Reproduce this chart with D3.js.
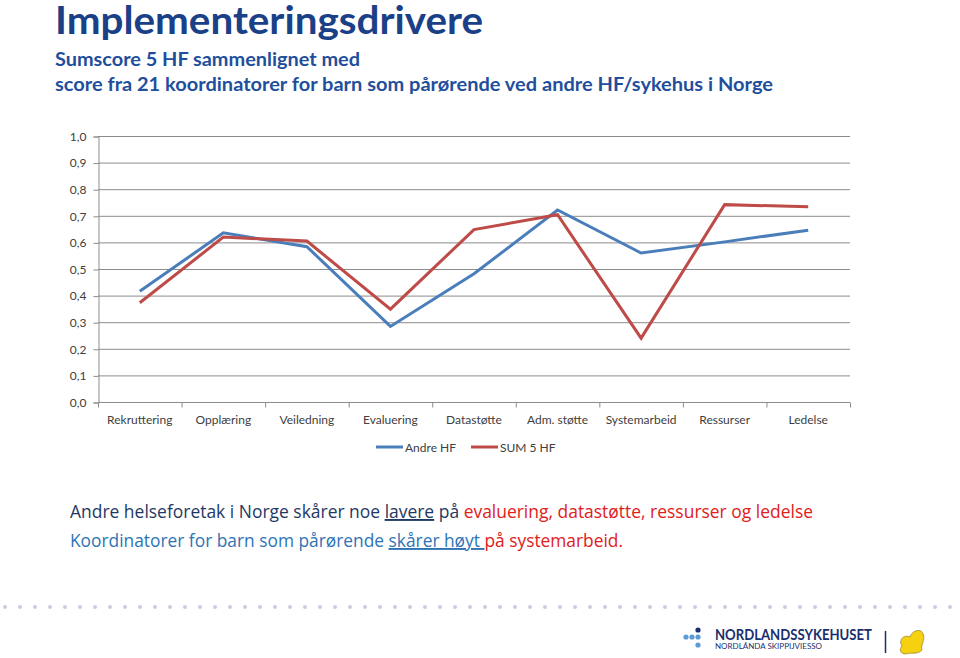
<!DOCTYPE html>
<html><head><meta charset="utf-8">
<script src="https://cdn.jsdelivr.net/npm/d3@7/dist/d3.min.js"></script>
<style>
html,body{margin:0;padding:0;background:#fff;}
svg{display:block;font-family:Lato,"Open Sans",sans-serif;}
</style></head>
<body>
<svg id="c" width="960" height="658"></svg>
<script>
const categories = ["Rekruttering","Opplæring","Veiledning","Evaluering","Datastøtte","Adm. støtte","Systemarbeid","Ressurser","Ledelse"];
const andreHF = [0.416,0.636,0.584,0.284,0.482,0.722,0.560,0.602,0.646];
const sum5HF  = [0.373,0.620,0.605,0.349,0.648,0.704,0.240,0.742,0.734];
const yTicks = [0,0.1,0.2,0.3,0.4,0.5,0.6,0.7,0.8,0.9,1.0];
const seriesNames = ["Andre HF","SUM 5 HF"];
const seriesColors = ["#4a7ebb","#be4b48"];

const svg = d3.select("#c");

// Title
svg.append("text").attr("x",55).attr("y",34).attr("fill","#1a4087")
  .attr("font-size",39).attr("font-weight","bold")
  .attr("textLength",428).attr("lengthAdjust","spacingAndGlyphs")
  .text("Implementeringsdrivere");
svg.append("text").attr("x",55).attr("y",66).attr("fill","#1f4f9c")
  .attr("font-size",18.5).attr("font-weight","bold")
  .attr("textLength",305).attr("lengthAdjust","spacingAndGlyphs")
  .text("Sumscore 5 HF sammenlignet med");
svg.append("text").attr("x",55).attr("y",91).attr("fill","#1f4f9c")
  .attr("font-size",18.5).attr("font-weight","bold")
  .attr("textLength",718).attr("lengthAdjust","spacingAndGlyphs")
  .text("score fra 21 koordinatorer for barn som pårørende ved andre HF/sykehus i Norge");

// Chart
const x0 = 98, x1 = 850, yTop = 136, yBot = 402;
const x = d3.scaleBand().domain(categories).range([x0,x1]).paddingInner(0).paddingOuter(0);
const y = d3.scaleLinear().domain([0,1]).range([yBot,yTop]);
const grid = "#8c8c8c";

const g = svg.append("g");
// gridlines
g.append("g").selectAll("line").data(yTicks.filter(d=>d>0)).join("line")
  .attr("x1",x0).attr("x2",x1).attr("y1",d=>y(d)+0.5).attr("y2",d=>y(d)+0.5)
  .attr("stroke",grid).attr("stroke-width",1);

// y axis
const yAxis = d3.axisLeft(y).tickValues(yTicks).tickSize(5).tickPadding(7)
  .tickFormat(d=>d3.format(".1f")(d).replace(".",","));
const ya = g.append("g").attr("transform",`translate(${x0+0.5},0.5)`).call(yAxis);
ya.select(".domain").attr("stroke",grid);
ya.selectAll(".tick line").attr("stroke",grid);
ya.selectAll("text").attr("font-size",12).attr("fill","#404040").attr("font-family","Lato,'Open Sans',sans-serif");

// x axis
const xa = g.append("g").attr("transform",`translate(0,${yBot+0.5})`);
xa.append("line").attr("x1",x0).attr("x2",x1).attr("stroke",grid);
const bounds = categories.map(c=>x(c)).concat([x1]);
xa.selectAll("line.tk").data(bounds).join("line").attr("class","tk")
  .attr("x1",d=>d+0.5).attr("x2",d=>d+0.5).attr("y1",0).attr("y2",5).attr("stroke",grid);
xa.selectAll("text").data(categories).join("text")
  .attr("x",d=>x(d)+x.bandwidth()/2).attr("y",21)
  .attr("text-anchor","middle").attr("font-size",12).attr("fill","#404040")
  .text(d=>d);

// lines
const line = d3.line().x((d,i)=>x(categories[i])+x.bandwidth()/2).y(d=>y(d));
[andreHF,sum5HF].forEach((s,i)=>{
  g.append("path").datum(s).attr("d",line).attr("fill","none")
    .attr("stroke",seriesColors[i]).attr("stroke-width",3).attr("stroke-linejoin","miter");
});

// legend
const lg = svg.append("g");
const legX = [376,471];
seriesNames.forEach((n,i)=>{
  lg.append("line").attr("x1",legX[i]).attr("x2",legX[i]+27).attr("y1",447).attr("y2",447)
    .attr("stroke",seriesColors[i]).attr("stroke-width",3);
  lg.append("text").attr("x",legX[i]+29).attr("y",451.5).attr("font-size",12).attr("fill","#404040").text(n);
});

// bottom text
const t1 = svg.append("text").attr("x",70).attr("y",518).attr("font-size",19)
  .attr("font-family","'Open Sans',Lato,sans-serif")
  .attr("textLength",743).attr("lengthAdjust","spacingAndGlyphs");
t1.append("tspan").attr("fill","#1f3864").text("Andre helseforetak i Norge skårer noe ");
t1.append("tspan").attr("fill","#1f3864").attr("text-decoration","underline").text("lavere");
t1.append("tspan").attr("fill","#1f3864").text(" på ");
t1.append("tspan").attr("fill","#e0201b").text("evaluering, datastøtte, ressurser og ledelse");

const t2 = svg.append("text").attr("x",70).attr("y",547).attr("font-size",19)
  .attr("font-family","'Open Sans',Lato,sans-serif")
  .attr("textLength",553).attr("lengthAdjust","spacingAndGlyphs");
t2.append("tspan").attr("fill","#2e74b5").text("Koordinatorer for barn som pårørende ");
t2.append("tspan").attr("fill","#2e74b5").attr("text-decoration","underline").text("skårer høyt ");
t2.append("tspan").attr("fill","#e0201b").text("på systemarbeid.");

// footer dots
const dotsX = d3.range(5, 960, 15);
svg.append("g").selectAll("circle").data(dotsX).join("circle")
  .attr("cx",d=>d).attr("cy",607).attr("r",2).attr("fill","#c9cde0");

// logo
const lo = svg.append("g");
[[698,630,2.6,"#1a2f6e"],[686,637,2.6,"#5b9bd5"],[692,637,2.6,"#5b9bd5"],[698,637,2.6,"#5b9bd5"],[698,645,2.6,"#5b9bd5"]]
  .forEach(([cx,cy,r,c])=>lo.append("circle").attr("cx",cx).attr("cy",cy).attr("r",r).attr("fill",c));
lo.append("text").attr("x",715).attr("y",640).attr("font-size",14.5).attr("font-weight","bold")
  .attr("fill","#1a2f6e").attr("textLength",157).attr("lengthAdjust","spacingAndGlyphs").text("NORDLANDSSYKEHUSET");
lo.append("text").attr("x",715).attr("y",648.5).attr("font-size",7.5)
  .attr("fill","#1a2f6e").attr("textLength",107).attr("lengthAdjust","spacingAndGlyphs").text("NORDLÁNDA SKIPPIJVIESSO");
lo.append("line").attr("x1",885.5).attr("x2",885.5).attr("y1",631).attr("y2",653).attr("stroke","#1a2f6e").attr("stroke-width",1.5);
lo.append("path").attr("d","M902,646 C898,640 904,634 910,637 C912,630 922,628 923,634 C926,640 920,645 922,650 C918,655 910,652 906,654 C900,654 899,649 902,646 Z")
  .attr("fill","#f5d10f").attr("stroke","#9a8a30").attr("stroke-width",0.8);
</script>
</body></html>
